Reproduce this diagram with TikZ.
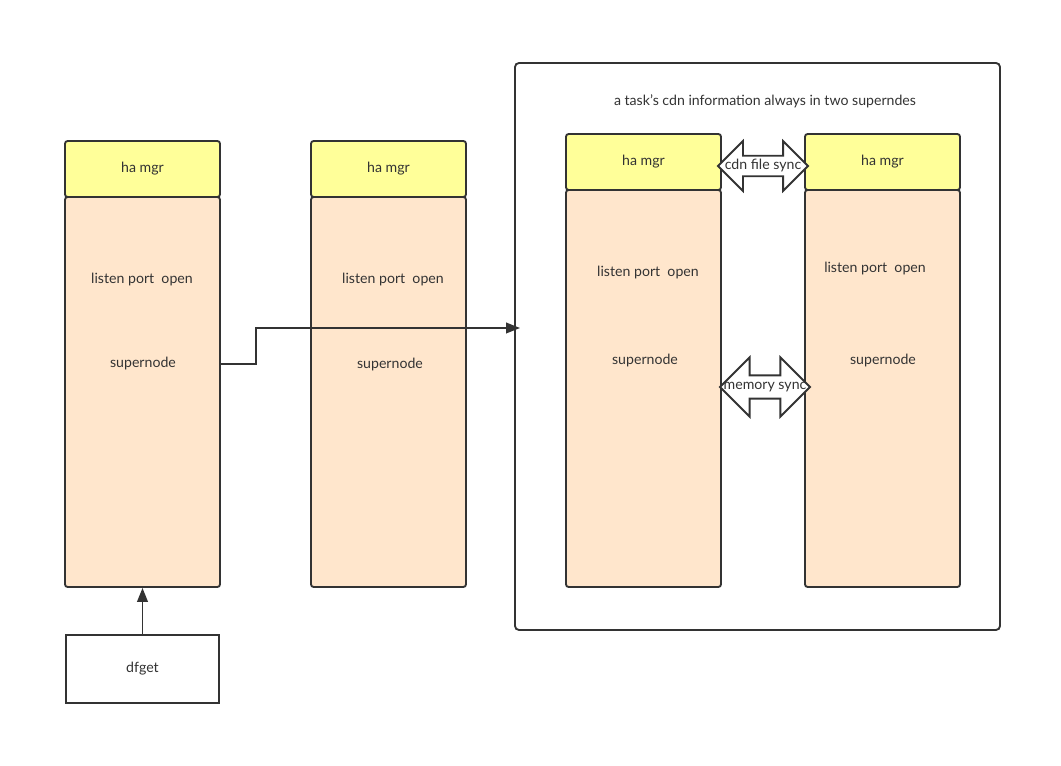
\documentclass[tikz,border=0pt]{standalone}
\usepackage{fontspec}
\setmainfont{Lato}
\usetikzlibrary{positioning, arrows.meta, shapes.arrows}

\definecolor{hamgrfill}{HTML}{FFFF99}
\definecolor{bodyfill}{HTML}{FFE6CC}
\definecolor{ink}{HTML}{333333}

\begin{document}
\begin{tikzpicture}[x=0.75pt, y=-0.75pt,
		every node/.style = {font=\fontsize{10.6}{12}\selectfont, text=ink},
		hamgr/.style = {draw=ink, line width=1.4pt, fill=hamgrfill,
			rounded corners=2pt, minimum width=116.25pt, minimum height=42pt},
		snbody/.style args = {#1}{draw=ink, line width=1.4pt, fill=bodyfill,
			rounded corners=2pt, minimum width=116.25pt, minimum height=#1},
		syncarrow/.style args = {#1/#2}{double arrow, draw=ink, line width=1.4pt,
			fill=white, minimum height=#1, inner sep=0pt, inner ysep=#2,
			double arrow tip angle=90},
		flow/.style = {draw=ink, line width=1.4pt,
			-{Triangle[length=10.5pt, width=8pt]}}
                    ]
		\useasboundingbox (0,0) rectangle (1061,766);

		% outer frame
		\draw[ink, line width=1.4pt, rounded corners=3pt] (515,63) rectangle (1000,630);
		\node(title) at (765,101) {a task's cdn information always in two superndes};

		% left supernodes
		\node(b1) [snbody=292.5pt] at (142.5,392) {};
		\node(h1) [hamgr] at (142.5,169) {ha mgr};
		\node(lp1) at (142,280) {listen port\ \ open};
		\node(sn1) at (143,364) {supernode};

		\node(b2) [snbody=292.5pt] at (388.5,392) {};
		\node(h2) [hamgr] at (388.5,169) {ha mgr};
		\node(lp2) at (393,280) {listen port\ \ open};
		\node(sn2) at (390,365) {supernode};

		% supernodes inside frame
		\node(b3) [snbody=297.75pt] at (643.5,388.5) {};
		\node(h3) [hamgr] at (643.5,162) {ha mgr};
		\node(lp3) at (648,273) {listen port\ \ open};
		\node(sn3) at (645,361) {supernode};

		\node(b4) [snbody=297.75pt] at (882.5,388.5) {};
		\node(h4) [hamgr] at (882.5,162) {ha mgr};
		\node(lp4) at (875,269) {listen port\ \ open};
		\node(sn4) at (883,361) {supernode};

		% sync arrows
		\node(fsync) [syncarrow=67.5pt/7pt, double arrow head extend=11pt,
			label=center:{cdn file sync}] at (763,166) {};
		\node(msync) [syncarrow=67.5pt/8pt, double arrow head extend=13.5pt,
			label=center:{memory sync}] at (765,387) {};

		% client
		\node(df) [draw=ink, line width=1.4pt, fill=white,
			minimum width=114.75pt, minimum height=51pt] at (142.5,669) {dfget};

		\coordinate(bend) at (256,328);
		\coordinate(tip) at (520,328);

		\path[flow] (df.north) -- (b1.south);
		\path[flow] (b1.east |- sn1) -| (bend) -- (tip);
	\end{tikzpicture}
\end{document}
